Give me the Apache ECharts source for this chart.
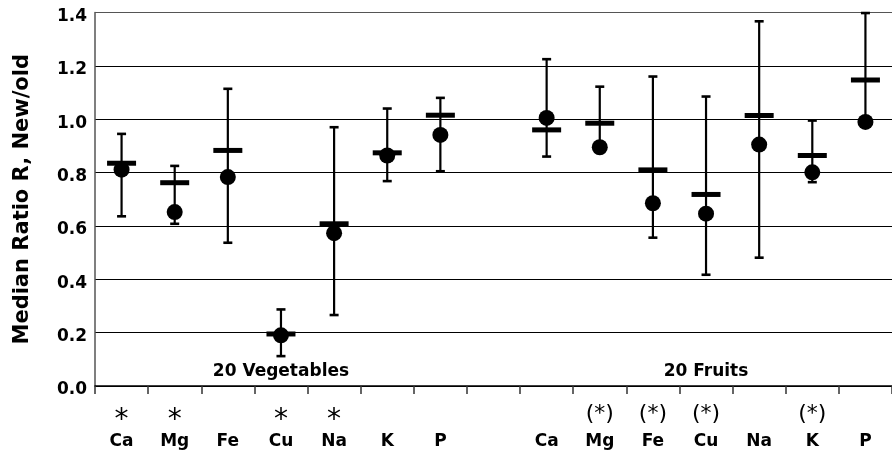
<!DOCTYPE html>
<html>
<head>
<meta charset="utf-8">
<script src="https://cdn.jsdelivr.net/npm/echarts@6/dist/echarts.min.js"></script>
<style>
html,body{margin:0;padding:0;background:#fff;}
#c{width:892px;height:451px;}
</style>
</head>
<body>
<div id="c"></div>
<script>
var categories = ['Ca','Mg','Fe','Cu','Na','K','P','','Ca','Mg','Fe','Cu','Na','K','P'];
var stars = ['*','*','','*','*','','','','','(*)','(*)','(*)','','(*)',''];
var dashValues = [0.835,0.762,0.883,0.195,0.608,0.874,1.015,null,0.960,0.985,0.810,0.718,1.014,0.864,1.147];
var dotValues  = [0.811,0.652,0.783,0.190,0.573,0.864,0.941,null,1.005,0.895,0.685,0.646,0.905,0.801,0.990];
var lowValues  = [0.636,0.608,0.537,0.112,0.266,0.768,0.805,null,0.860,0.885,0.556,0.417,0.481,0.764,0.990];
var highValues = [0.945,0.825,1.114,0.287,0.970,1.040,1.080,null,1.225,1.122,1.160,1.085,1.367,0.995,1.398];
var yTicks = [0.0,0.2,0.4,0.6,0.8,1.0,1.2,1.4];
var groupLabels = ['20 Vegetables','20 Fruits'];
var groupLabelCat = [3, 11];
var groupLabelValue = 0.055;

var FONT = 'DejaVu Sans';

function pairs(arr){
  var out = [];
  arr.forEach(function(v,i){ if(v !== null) out.push([i, v]); });
  return out;
}
var errData = [];
lowValues.forEach(function(v,i){ if(v !== null) errData.push([i, v, highValues[i]]); });

var chart = echarts.init(document.getElementById('c'), null, {renderer:'canvas'});
chart.setOption({
  animation: false,
  backgroundColor: '#fff',
  grid: {left: 95, top: 12, bottom: 65, right: -5.5, containLabel: false},
  xAxis: {
    type: 'category',
    data: categories,
    boundaryGap: true,
    axisLine: {show: true, lineStyle: {color: '#000', width: 1.5}},
    axisTick: {show: true, length: 8, interval: 0, lineStyle: {color: '#333', width: 1.5}},
    axisLabel: {
      interval: 0,
      margin: 24,
      formatter: function(v, i){
        var s = stars[i];
        var st;
        if (!s) st = '{s| }';
        else if (s.charAt(0) === '(') st = '{p|' + s + '}';
        else st = '{s|' + s + '}';
        return st + '\n{n|' + v + '}';
      },
      rich: {
        s: {fontFamily: FONT, fontSize: 28, fontWeight: 'normal', color: '#000', lineHeight: 22, padding:[4,0,4,0]},
        p: {fontFamily: FONT, fontSize: 22, fontWeight: 'normal', color: '#000', lineHeight: 22, padding:[0,0,14,0]},
        n: {fontFamily: FONT, fontSize: 17, fontWeight: 'bold', color: '#000', lineHeight: 20}
      }
    },
    splitLine: {show: false}
  },
  yAxis: {
    type: 'value',
    min: 0,
    max: 1.4,
    interval: 0.2,
    name: 'Median Ratio R, New/old',
    nameLocation: 'middle',
    nameGap: 62,
    nameTextStyle: {fontFamily: FONT, fontSize: 21, fontWeight: 'bold', color: '#000'},
    axisLine: {show: true, lineStyle: {color: '#555', width: 1.5}},
    axisTick: {show: false},
    axisLabel: {
      margin: 8,
      formatter: function(v){ return '{a|' + v.toFixed(1) + '}'; },
      rich: {
        a: {fontFamily: FONT, fontSize: 17, fontWeight: 'bold', color: '#000', lineHeight: 20, padding: [8, 0, 0, 0]}
      }
    },
    splitLine: {show: true, lineStyle: {color: ['#000','#000','#000','#000','#000','#000','#000','#555'], width: 1.2}}
  },
  series: [
    {
      type: 'custom',
      data: errData,
      encode: {x: 0, y: [1, 2]},
      z: 2,
      renderItem: function(params, api){
        var x = api.value(0), lo = api.value(1), hi = api.value(2);
        var pLo = api.coord([x, lo]), pHi = api.coord([x, hi]);
        var w = 4.5;
        var st = {stroke: '#000', lineWidth: 2.2, fill: null};
        return {type: 'group', children: [
          {type: 'line', shape: {x1: pHi[0], y1: pHi[1], x2: pLo[0], y2: pLo[1]}, style: st},
          {type: 'line', shape: {x1: pHi[0]-w, y1: pHi[1], x2: pHi[0]+w, y2: pHi[1]}, style: {stroke:'#000', lineWidth: 2.6}},
          {type: 'line', shape: {x1: pLo[0]-w, y1: pLo[1], x2: pLo[0]+w, y2: pLo[1]}, style: {stroke:'#000', lineWidth: 2.6}}
        ]};
      }
    },
    {
      type: 'scatter',
      data: pairs(dotValues),
      symbol: 'circle',
      symbolSize: 16,
      itemStyle: {color: '#000', opacity: 1},
      z: 3
    },
    {
      type: 'scatter',
      data: pairs(dashValues),
      symbol: 'rect',
      symbolSize: [29, 5],
      itemStyle: {color: '#000', opacity: 1},
      z: 4
    },
    {
      type: 'scatter',
      data: groupLabels.map(function(t, i){ return {value: [groupLabelCat[i], groupLabelValue], name: t}; }),
      symbolSize: 0,
      silent: true,
      itemStyle: {opacity: 1},
      label: {
        show: true,
        position: 'inside',
        formatter: function(p){ return p.name; },
        fontFamily: FONT, fontSize: 17, fontWeight: 'bold', color: '#000', opacity: 1
      },
      z: 5
    }
  ]
});
</script>
</body>
</html>
